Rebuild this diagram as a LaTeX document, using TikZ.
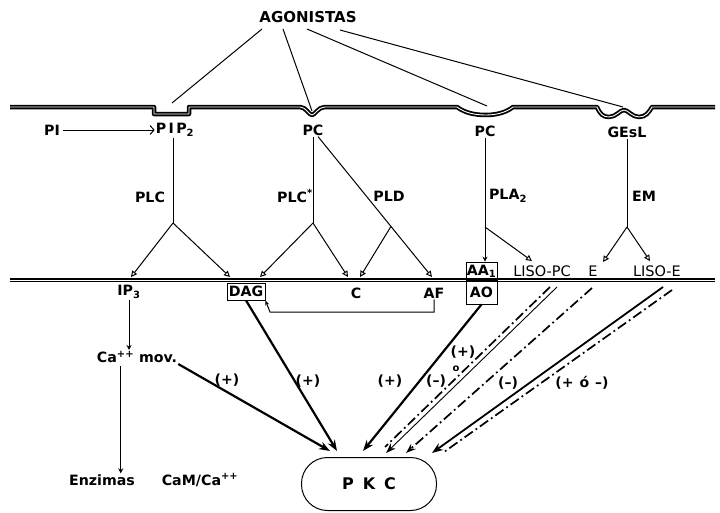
\documentclass[tikz,border=0pt]{standalone}
\usepackage{fontspec}
\setmainfont{DejaVu Sans}
\usetikzlibrary{arrows.meta,calc}
\begin{document}
\begin{tikzpicture}[x=1pt,y=-1pt,
  lbl/.style={font=\fontsize{14.2}{16}\selectfont\bfseries, inner sep=1pt},
  lblr/.style={font=\fontsize{14.5}{16}\selectfont, inner sep=1pt},
  sgn/.style={font=\fontsize{14}{16}\selectfont\bfseries, inner sep=0pt},
  memb/.style={line width=1.8pt, double=white, double distance=0.9pt, line join=round},
  thinln/.style={line width=1pt},
  br/.style={line width=1pt, -{Triangle[open,length=6pt,width=6pt]}},
  sm/.style={line width=1pt, -{Stealth[length=5pt,width=5pt]}},
  pk/.style={line width=2.2pt, -{Stealth[length=11pt,width=8pt]}},
  dd/.style={line width=1.7pt, dash pattern=on 10pt off 3.5pt on 1.8pt off 3.5pt},
  box/.style={draw, line width=0.8pt, inner sep=0pt}
]
\useasboundingbox (0,0) rectangle (720,512);

% agonists
\node[lbl, font=\fontsize{15}{17}\selectfont\bfseries] (ag) at (308,17) {AGONISTAS};
\coordinate (a1) at (262,29);
\coordinate (a2) at (283,29);
\coordinate (a3) at (307,29);
\coordinate (a4) at (340,30);
\coordinate (t1) at (172,103);
\coordinate (t2) at (312,111);
\coordinate (t3) at (487,106);
\coordinate (t4) at (623,107);
\draw[thinln] (a1) -- (t1);
\draw[thinln] (a2) -- (t2);
\draw[thinln] (a3) -- (t3);
\draw[thinln] (a4) -- (t4);

% membranes
\draw[memb] (10,107) -- (154,107) -- (154,114) -- (189,114) -- (189,107) -- (300,107)
  .. controls (306,107) and (309,115) .. (312,115)
  .. controls (315,115) and (318,107) .. (325,107) -- (457,107)
  .. controls (465,113) and (475,115) .. (486,115)
  .. controls (497,115) and (507,112) .. (513,107) -- (597,107)
  .. controls (600,114) and (603,117) .. (609,117)
  .. controls (616,117) and (620,110) .. (624,110)
  .. controls (628,110) and (632,117) .. (639,117)
  .. controls (646,117) and (649,112) .. (652,107) -- (715,107);
\draw[line width=1.5pt, double=white, double distance=0.5pt] (10,280) -- (715,280);

% row 2
\node[lbl] (pi) at (52,130) {PI};
\node[lbl] (pip2) at (175,130) {P\,I\,P\textsubscript{2}};
\node[lbl] (pc1) at (313,130) {PC};
\node[lbl] (pc2) at (485,131) {PC};
\node[lbl] (gesl) at (627,132) {GEsL};
\draw[line width=1pt, -{Straight Barb[length=4pt,width=9pt]}, shorten <=2pt] (pi) -- (pip2);

% enzyme labels
\node[lbl] (plc) at (150,197) {PLC};
\node[lbl] (plcs) at (295,196) {PLC\textsuperscript{*}};
\node[lbl] (pld) at (389,196) {PLD};
\node[lbl] (pla) at (508,196) {PLA\textsubscript{2}};
\node[lbl] (em) at (644,196) {EM};

% row 3
\node[lbl] (ip3) at (129,292) {IP\textsubscript{3}};
\node[lbl, box, minimum width=38pt, minimum height=17pt] (dag) at (246,291.5) {DAG};
\node[lbl] (c) at (356,293) {C};
\node[lbl] (af) at (434,293) {AF};
\node[lbl, box, minimum width=31pt, minimum height=18pt] (aa) at (481.5,271) {AA\textsubscript{1}};
\node[lbl, box, minimum width=31pt, minimum height=24pt] (ao) at (481.5,292) {AO};
\node[lblr] (lisopc) at (542,271) {LISO-PC};
\node[lblr] (e) at (593,271) {E};
\node[lblr] (lisoe) at (657,271) {LISO-E};

% branch points and targets
\coordinate (b1) at (173,223);
\coordinate (b2) at (313,223);
\coordinate (b4) at (485,227);
\coordinate (b5) at (627,227);
\coordinate (ip3in) at (131,277);
\coordinate (dagin1) at (230,277);
\coordinate (dagin2) at (260,277);
\coordinate (cin1) at (348,277);
\coordinate (cin2) at (360,277);
\coordinate (afin) at (432,277);
\coordinate (lpcin) at (532,261);
\coordinate (ein) at (603,262);
\coordinate (lein) at (650,261);
\coordinate (pldtop) at ($(pc1.south)+(5,0)$);
\coordinate (b3) at ($(pldtop)!0.64!(afin)$);

\draw[thinln] (b1 |- pip2.south) -- (b1);
\draw[br] (b1) -- (ip3in);
\draw[br] (b1) -- (dagin1);
\draw[thinln] (b2 |- pc1.south) -- (b2);
\draw[br] (b2) -- (dagin2);
\draw[br] (b2) -- (cin1);
\draw[br] (pldtop) -- (afin);
\draw[br] (b3) -- (cin2);
\draw[thinln, -{Stealth[length=5pt,width=5pt]}] (pc2.south) -- (pc2.south |- aa.north);
\draw[br] (b4) -- (lpcin);
\draw[thinln] (gesl.south) -- (b5);
\draw[br] (b5) -- (ein);
\draw[br] (b5) -- (lein);

% AF -> DAG bracket
\coordinate (bk) at (270,312);
\draw[thinln, -{Stealth[length=5pt,width=4pt]}] (af.south) |- (bk) -- (dag.south east);

% calcium
\node[lbl] (camov) at (137,357) {Ca\textsuperscript{++} mov.};
\draw[sm] (ip3.south) -- (ip3.south |- camov.north);
\node[lbl] (enz) at (102,480) {Enzimas};
\node[lbl] (cam) at (200,480) {CaM/Ca\textsuperscript{++}};
\coordinate (cadown) at ($(camov.south west)+(25,2)$);
\draw[sm] (cadown) -- (cadown |- enz.north);

% PKC
\node[draw, line width=1pt, rounded corners=26pt, minimum width=135pt, minimum height=53pt,
  font=\fontsize{16}{18}\selectfont\bfseries] (pkc) at (369,484) {P\hspace{9pt}K\hspace{9pt}C};
\coordinate (k1) at ($(pkc.north)+(-39,-6)$);
\coordinate (k2) at ($(pkc.north)+(-32,-6)$);
\coordinate (k3) at ($(pkc.north)+(-6,-6)$);
\coordinate (k4) at ($(pkc.north)+(17,-4)$);
\coordinate (k5) at ($(pkc.north)+(37,-4)$);
\coordinate (k6) at ($(pkc.north)+(63,-4)$);

\draw[pk] (camov.south east) -- (k1);
\draw[pk] (dag.south) -- (k2);
\draw[pk] (ao.south) -- (k3);

\coordinate (s4s) at (557,287);
\coordinate (s4d) at (550,287);
\coordinate (s5) at (592,288);
\coordinate (s6s) at (663,287);
\coordinate (s6d) at (672,290);
\draw[line width=0.9pt, -{Stealth[length=10pt,width=7pt]}] (s4s) -- (k4);
\draw[dd] (s4d) -- ($(k4)+(-1,-6)$);
\draw[dd, -{Stealth[length=10pt,width=7pt]}] (s5) -- (k5);
\draw[line width=1.8pt, -{Stealth[length=11pt,width=8pt]}] (s6s) -- (k6);
\draw[dd] (s6d) -- ($(k6)+(12,-1)$);

% signs
\node[sgn] (pl1) at (227,380) {(+)};
\node[sgn] (pl2) at (308,381) {(+)};
\node[sgn] (pl3) at (390,381) {(+)};
\node[sgn] (pl4) at (463,352) {(+)};
\node[font=\fontsize{10}{12}\selectfont\bfseries, inner sep=0pt] (oo) at (456,369) {o};
\node[sgn] (mi1) at (436,381) {(--)};
\node[sgn] (mi2) at (508,383) {(--)};
\node[sgn] (pm) at (582,383) {(+\hspace{6pt}ó\hspace{6pt}--)};
\end{tikzpicture}
\end{document}
